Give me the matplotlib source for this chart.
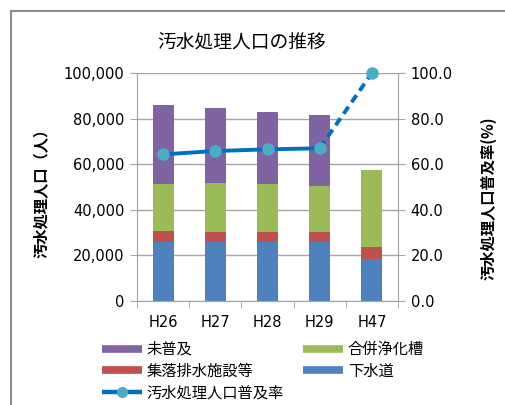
import matplotlib
matplotlib.use("Agg")
import matplotlib.pyplot as plt
from matplotlib.lines import Line2D
from matplotlib.patches import Rectangle
from matplotlib.ticker import FuncFormatter, FixedLocator
import numpy as np

plt.rcParams['font.family'] = ['DejaVu Sans', 'Noto Sans CJK JP']

categories = ["H26", "H27", "H28", "H29", "H47"]
sewer = [25700, 25700, 25700, 25700, 18400]          # 下水道
rural = [5100, 4600, 4600, 4600, 5400]               # 集落排水施設等
septic = [20400, 21300, 21200, 20300, 33700]         # 合併浄化槽
unserved = [34800, 33200, 31500, 31100, 0]           # 未普及
rate = [64.3, 65.8, 66.5, 67.0, 100.0]               # 汚水処理人口普及率

C_BLUE = "#4F81BD"
C_RED = "#C0504D"
C_GREEN = "#9BBB59"
C_PURPLE = "#8064A2"
C_LINE = "#0070C0"
C_MARK = "#4BACC6"
GRID = "#A6A6A6"

fig = plt.figure(figsize=(5.05, 4.05), dpi=100)
ax = fig.add_axes([137/505, 1-301/405, (398-137)/505, (301-73)/405])

x = np.arange(len(categories))
w = 0.4
ax.bar(x, sewer, w, color=C_BLUE, zorder=3)
bottom = np.array(sewer, dtype=float)
ax.bar(x, rural, w, bottom=bottom, color=C_RED, zorder=3)
bottom += rural
ax.bar(x, septic, w, bottom=bottom, color=C_GREEN, zorder=3)
bottom += septic
ax.bar(x, unserved, w, bottom=bottom, color=C_PURPLE, zorder=3)

ax.set_ylim(0, 100000)
ax.set_xlim(-0.5, len(categories)-0.5)
ax.set_yticks(np.arange(0, 100001, 20000))
ax.yaxis.set_major_formatter(FuncFormatter(lambda v, p: f"{int(v):,}"))
ax.grid(axis='y', color=GRID, lw=1, zorder=0)
ax.set_xticks(x)
ax.set_xticklabels(categories, fontsize=10.5)
ax.xaxis.set_minor_locator(FixedLocator(np.arange(-0.5, len(categories), 1.0)))
ax.tick_params(axis='x', which='major', length=0, pad=10)
ax.tick_params(axis='x', which='minor', length=5, color=GRID, direction='out')
ax.tick_params(axis='y', length=5, color=GRID, labelsize=10.5, pad=4)
for s in ['left', 'right', 'bottom']:
    ax.spines[s].set_color(GRID)
ax.spines['top'].set_visible(False)
ax.set_ylabel("汚水処理人口（人）", fontsize=11, fontweight='bold',
              family=['Noto Sans CJK JP'])
ax.yaxis.set_label_coords(-(137-50)/261, 0.49)

ax2 = ax.twinx()
ax2.set_position(ax.get_position())
ax2.set_ylim(0, 100)
ax2.set_yticks(np.arange(0, 101, 20))
ax2.yaxis.set_major_formatter(FuncFormatter(lambda v, p: f"{v:.1f}"))
ax2.tick_params(axis='y', length=5, color=GRID, labelsize=10.5, pad=4)
for s in ['left', 'right', 'bottom']:
    ax2.spines[s].set_color(GRID)
ax2.spines['top'].set_visible(False)
ax2.set_ylabel("汚水処理人口普及率(%)", fontsize=11, fontweight='bold',
               rotation=90, family=['Noto Sans CJK JP'])
ax2.yaxis.set_label_coords(1 + (480-398)/261, 0.45)

ax2.plot(x[:4], rate[:4], color=C_LINE, lw=2.8, zorder=4)
ax2.plot(x[3:], rate[3:], color=C_LINE, lw=2.8, ls=(0, (2.2, 1.4)), zorder=4)
ax2.plot(x, rate, ls='none', marker='o', ms=8, color=C_MARK, mec=C_MARK, zorder=5,
         clip_on=False)

fig.text(242/505, 1-43/405, "汚水処理人口の推移", ha='center', va='center',
         fontsize=13.5, family=['Noto Sans CJK JP'])

handles = [
    Line2D([], [], color=C_PURPLE, lw=5.5, solid_capstyle='butt'),
    Line2D([], [], color=C_RED, lw=5.5, solid_capstyle='butt'),
    Line2D([], [], color=C_LINE, lw=3.2, marker='o', ms=7, mfc=C_MARK, mec=C_MARK,
           solid_capstyle='butt'),
    Line2D([], [], color=C_GREEN, lw=5.5, solid_capstyle='butt'),
    Line2D([], [], color=C_BLUE, lw=5.5, solid_capstyle='butt'),
]
labels = ["未普及", "集落排水施設等", "汚水処理人口普及率", "合併浄化槽", "下水道"]
fig.legend(handles, labels, ncol=2, loc='upper left',
           bbox_to_anchor=(102/505, 1-341/405), frameon=False,
           prop={'family': 'Noto Sans CJK JP', 'size': 11},
           handlelength=2.6, handletextpad=0.3, columnspacing=1.3,
           labelspacing=0.3, borderpad=0, borderaxespad=0)

fig.patches.append(Rectangle((11/505, -0.1), 1.2, 1.1 - 11/405,
                             transform=fig.transFigure, fill=False,
                             edgecolor="#8C8C8C", lw=1.5, clip_on=False))

fig.savefig("out.png", dpi=100)
